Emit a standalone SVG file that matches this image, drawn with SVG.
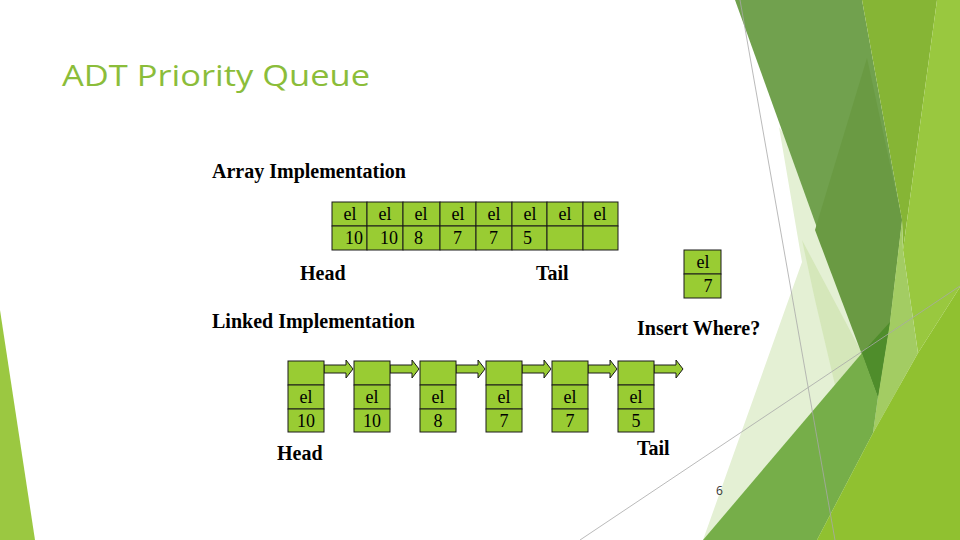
<svg xmlns="http://www.w3.org/2000/svg" width="960" height="540" viewBox="0 0 960 540">
<defs>
<style>
.cell{fill:#99cc33;stroke:#1a1a1a;stroke-width:1}
.ct{font-family:"Liberation Serif",serif;font-size:18px;fill:#000;text-anchor:middle}
.cs{font-family:"Liberation Serif",serif;font-size:18px;fill:#000}
.lb{font-family:"Liberation Serif",serif;font-size:20px;font-weight:bold;fill:#000}
.arr{fill:#99cc33;stroke:#1a1a1a;stroke-width:1}
.gl{stroke:#a8a8a8;stroke-width:0.8;fill:none}
</style>
<path id="ar" d="M0,-4 H22 V-9 L29,0 L22,9 V4 H0 Z"/>
</defs>
<rect width="960" height="540" fill="#ffffff"/>
<g id="background">
<polygon points="0,310 35,540 0,540" fill="#9bc841"/>
<polygon points="779,127 802,262 703,540 900,540 900,300" fill="#e4f0d4"/>
<polygon points="802,240 862,353 835,385 815,300" fill="#d5e7ba"/>
<polygon points="735,0 862,0 902,220 890,322 878,397" fill="#71a14e"/>
<polygon points="867,58 902,220 890,322 878,397 815,230" fill="#6a9a43"/>
<polygon points="862,0 937,0 903,250 902,220" fill="#86b535"/>
<polygon points="937,0 960,0 960,287 918,353 903,250" fill="#99c83f"/>
<polygon points="902,220 903,250 918,353 873,433 878,397 890,322" fill="#a3cc63"/>
<polygon points="703,540 862,353 878,397 873,433 817,540" fill="#76ae49"/>
<polygon points="862,353 890,322 878,397" fill="#4f8d2b"/>
<polygon points="960,287 918,353 873,433 817,540 960,540" fill="#90c130"/>
<line class="gl" x1="740" y1="0" x2="835" y2="540"/>
<line class="gl" x1="580" y1="540" x2="960" y2="286"/>
</g>
<text x="62" y="86" font-family="'Open Sans',sans-serif" font-size="30" fill="#8bbd3a" textLength="308" lengthAdjust="spacingAndGlyphs">ADT Priority Queue</text>
<text class="lb" x="212" y="178">Array Implementation</text>
<g id="array">
<rect class="cell" x="332" y="202" width="35" height="24"/><rect class="cell" x="332" y="226" width="35" height="24"/>
<rect class="cell" x="367" y="202" width="36" height="24"/><rect class="cell" x="367" y="226" width="36" height="24"/>
<rect class="cell" x="403" y="202" width="37" height="24"/><rect class="cell" x="403" y="226" width="37" height="24"/>
<rect class="cell" x="440" y="202" width="36" height="24"/><rect class="cell" x="440" y="226" width="36" height="24"/>
<rect class="cell" x="476" y="202" width="36" height="24"/><rect class="cell" x="476" y="226" width="36" height="24"/>
<rect class="cell" x="512" y="202" width="35" height="24"/><rect class="cell" x="512" y="226" width="35" height="24"/>
<rect class="cell" x="547" y="202" width="36" height="24"/><rect class="cell" x="547" y="226" width="36" height="24"/>
<rect class="cell" x="583" y="202" width="35" height="24"/><rect class="cell" x="583" y="226" width="35" height="24"/>
<text class="ct" x="350" y="220">el</text><text class="ct" x="385" y="220">el</text><text class="ct" x="421" y="220">el</text><text class="ct" x="458" y="220">el</text>
<text class="ct" x="494" y="220">el</text><text class="ct" x="530" y="220">el</text><text class="ct" x="565" y="220">el</text><text class="ct" x="600" y="220">el</text>
<text class="cs" x="345" y="244">10</text><text class="cs" x="380" y="244">10</text><text class="cs" x="414" y="244">8</text>
<text class="cs" x="453" y="244">7</text><text class="cs" x="489" y="244">7</text><text class="cs" x="523" y="244">5</text>
</g>
<text class="lb" x="300" y="280">Head</text>
<text class="lb" x="536" y="280">Tail</text>
<g id="insert-node">
<rect class="cell" x="684" y="250" width="37" height="24"/><rect class="cell" x="684" y="274" width="37" height="24"/>
<text class="ct" x="703" y="268">el</text><text class="ct" x="708" y="292">7</text>
</g>
<text class="lb" x="212" y="328">Linked Implementation</text>
<text class="lb" x="637" y="335">Insert Where?</text>
<g id="connectors">
<use href="#ar" class="arr" transform="translate(324,369)"/>
<use href="#ar" class="arr" transform="translate(390,369)"/>
<use href="#ar" class="arr" transform="translate(456,369)"/>
<use href="#ar" class="arr" transform="translate(522,369)"/>
<use href="#ar" class="arr" transform="translate(588,369)"/>
<use href="#ar" class="arr" transform="translate(654,369)"/>
</g>
<g id="node1"><rect class="cell" x="288" y="361" width="36" height="24"/><rect class="cell" x="288" y="385" width="36" height="24"/><rect class="cell" x="288" y="409" width="36" height="23"/><text class="ct" x="306" y="403">el</text><text class="ct" x="306" y="427">10</text></g>
<g id="node2"><rect class="cell" x="354" y="361" width="36" height="24"/><rect class="cell" x="354" y="385" width="36" height="24"/><rect class="cell" x="354" y="409" width="36" height="23"/><text class="ct" x="372" y="403">el</text><text class="ct" x="372" y="427">10</text></g>
<g id="node3"><rect class="cell" x="420" y="361" width="36" height="24"/><rect class="cell" x="420" y="385" width="36" height="24"/><rect class="cell" x="420" y="409" width="36" height="23"/><text class="ct" x="438" y="403">el</text><text class="ct" x="438" y="427">8</text></g>
<g id="node4"><rect class="cell" x="486" y="361" width="36" height="24"/><rect class="cell" x="486" y="385" width="36" height="24"/><rect class="cell" x="486" y="409" width="36" height="23"/><text class="ct" x="504" y="403">el</text><text class="ct" x="504" y="427">7</text></g>
<g id="node5"><rect class="cell" x="552" y="361" width="36" height="24"/><rect class="cell" x="552" y="385" width="36" height="24"/><rect class="cell" x="552" y="409" width="36" height="23"/><text class="ct" x="570" y="403">el</text><text class="ct" x="570" y="427">7</text></g>
<g id="node6"><rect class="cell" x="618" y="361" width="36" height="24"/><rect class="cell" x="618" y="385" width="36" height="24"/><rect class="cell" x="618" y="409" width="36" height="23"/><text class="ct" x="636" y="403">el</text><text class="ct" x="636" y="427">5</text></g>
<text class="lb" x="277" y="460">Head</text>
<text class="lb" x="637" y="455">Tail</text>
<text x="716" y="495" font-family="'Open Sans',sans-serif" font-size="12" fill="#333">6</text>
</svg>
